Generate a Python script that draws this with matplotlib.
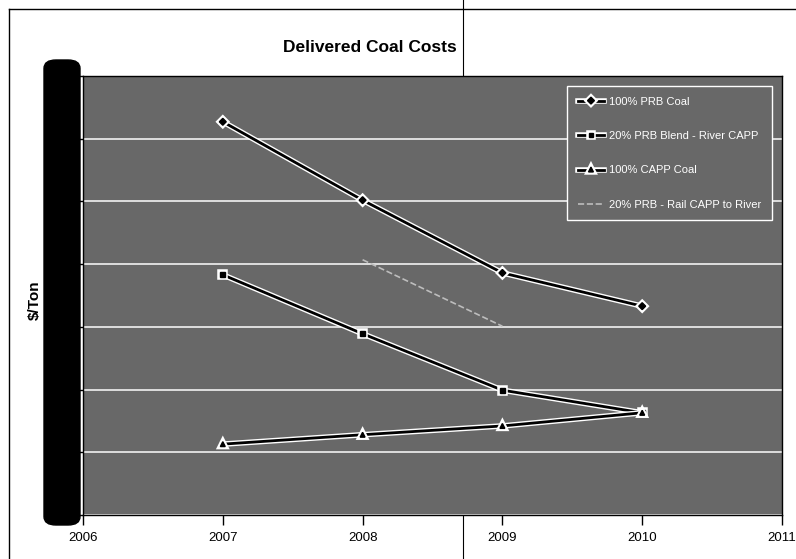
import numpy as np
import matplotlib
matplotlib.use("Agg")
import matplotlib.pyplot as plt
import matplotlib.patheffects as pe
from matplotlib.patches import FancyBboxPatch
from matplotlib.lines import Line2D

years = [2007, 2008, 2009, 2010]
prb_100 = [62.7, 50.2, 38.6, 33.3]
prb_20_river = [38.3, 28.9, 19.9, 16.3]
capp_100 = [11.3, 12.8, 14.2, 16.3]
prb_20_rail = [np.nan, 40.7, 30.1, np.nan]
series_names = ["100% PRB Coal", "20% PRB Blend - River CAPP",
                "100% CAPP Coal", "20% PRB - Rail CAPP to River"]
xticks = [2006, 2007, 2008, 2009, 2010, 2011]
title = "Delivered Coal Costs"
ylabel = "$/Ton"

FONT = ["Liberation Sans", "DejaVu Sans"]
plt.rcParams["font.family"] = FONT

fig = plt.figure(figsize=(7.96, 5.59), dpi=100)
W, H = 796, 559
ax = fig.add_axes([83 / W, 1 - 515 / H, (782 - 83) / W, (515 - 76) / H])
ax.set_facecolor("#686868")

stroke = [pe.Stroke(linewidth=4.0, foreground="white"), pe.Normal()]
ax.plot(years, prb_100, color="black", lw=2, marker="D", ms=3.5, path_effects=stroke, label=series_names[0], zorder=4)
ax.plot(years, prb_20_river, color="black", lw=2, marker="s", ms=3.5, path_effects=stroke, label=series_names[1], zorder=4)
ax.plot(years, capp_100, color="black", lw=2, marker="^", ms=3.5, path_effects=stroke, label=series_names[2], zorder=4)
ax.plot(years, prb_20_rail, color="#bdbdbd", lw=1.2, ls="--", label=series_names[3], zorder=3)

ax.set_xlim(2006, 2011)
ax.set_ylim(0, 70)
ax.set_xticks(xticks)
ax.set_xticklabels([str(x) for x in xticks], fontsize=9.5)
ax.set_yticks(np.arange(0, 71, 10))
ax.set_yticklabels([])
ax.grid(axis="y", color="#f2f2f2", lw=1.2)
ax.set_axisbelow(True)
ax.tick_params(axis="x", length=7, width=1, pad=5, colors="black")
ax.tick_params(axis="y", length=5, width=1)
for s in ax.spines.values():
    s.set_color("black")
    s.set_linewidth(1)

leg = ax.legend(loc="upper right", bbox_to_anchor=(0.993, 0.99), fontsize=8,
                facecolor="#686868", edgecolor="white", framealpha=1,
                labelspacing=2.2, handlelength=2.4, handletextpad=0.4,
                borderpad=0.95, fancybox=False)
for t in leg.get_texts():
    t.set_color("white")

fig.text(370 / W, 1 - 48 / H, title, ha="center", va="center", fontsize=12.5, weight="bold")
fig.text(35 / W, 1 - 300 / H, ylabel, ha="center", va="center", rotation=90, fontsize=11, weight="bold")

bar = FancyBboxPatch((44 / W, 1 - 525 / H), 36 / W, 465 / H,
                     boxstyle="round,pad=0,rounding_size=0.015", transform=fig.transFigure,
                     facecolor="black", edgecolor="black", zorder=5)
fig.add_artist(bar)

fig.add_artist(Line2D([9 / W, 9 / W], [0, 1 - 9 / H], color="black", lw=1, transform=fig.transFigure))
fig.add_artist(Line2D([9 / W, 1], [1 - 9 / H, 1 - 9 / H], color="black", lw=1, transform=fig.transFigure))
fig.add_artist(Line2D([463 / W, 463 / W], [0, 1], color="black", lw=0.8, transform=fig.transFigure, zorder=-1))

fig.savefig("out.png", dpi=100)
